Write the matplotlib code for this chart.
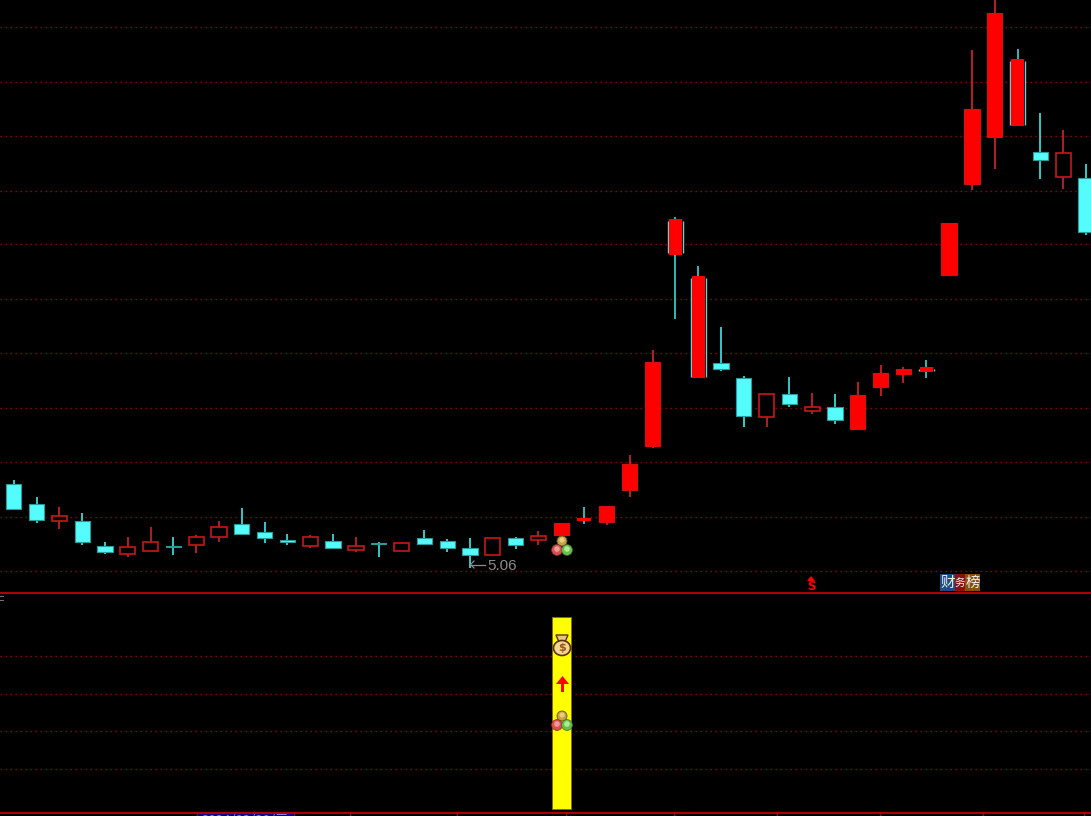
import matplotlib
matplotlib.use("Agg")
import matplotlib.pyplot as plt
from matplotlib.patches import Rectangle, Ellipse, Polygon

W, H = 1091, 816
RED, CYAN = "#ff0000", "#54fcfc"
DARK = "#a80000"

# Prices
high  = [5.91,5.74,5.64,5.58,5.29,5.34,5.44,5.34,5.36,5.50,5.63,5.49,5.37,5.36,5.37,5.34,5.29,5.29,5.41,5.32,5.33,5.33,5.34,5.40,5.48,5.64,5.65,6.16,7.21,8.54,8.05,7.44,6.95,6.77,6.94,6.78,6.77,6.89,7.06,7.04,7.11,8.48,10.21,10.75,10.22,9.58,9.41,9.07]
open_ = [5.87,5.67,5.50,5.50,5.25,5.17,5.20,5.25,5.26,5.34,5.47,5.39,5.31,5.25,5.30,5.21,5.28,5.20,5.33,5.30,5.23,5.16,5.33,5.31,5.36,5.50,5.49,5.81,6.25,8.16,6.93,7.08,6.93,6.54,6.77,6.60,6.64,6.42,6.84,6.97,6.99,7.96,8.87,9.34,9.45,9.19,8.94,8.93]
close = [5.62,5.51,5.55,5.29,5.19,5.24,5.29,5.24,5.34,5.44,5.37,5.33,5.29,5.34,5.23,5.25,5.27,5.28,5.27,5.23,5.16,5.33,5.26,5.35,5.48,5.53,5.65,6.07,7.09,8.52,7.95,7.02,6.55,6.77,6.67,6.64,6.51,6.76,6.98,7.02,7.04,8.48,9.62,10.58,10.12,9.11,9.18,8.39]
low   = [5.62,5.48,5.42,5.26,5.17,5.14,5.20,5.16,5.18,5.29,5.36,5.28,5.26,5.23,5.23,5.19,5.14,5.20,5.27,5.19,5.03,5.16,5.22,5.26,5.36,5.47,5.46,5.74,6.23,7.52,6.93,7.00,6.44,6.44,6.64,6.57,6.47,6.42,6.75,6.88,6.93,7.95,8.81,9.02,9.45,8.92,8.82,8.36]
hollow = [2,5,6,8,9,13,15,17,21,23,33,35,46]
cyan_edge = [25,29,30,40,44]
low_price_label = "5.06"
signal_index = 24
signal_bottom, signal_top = -0.062, 5.035
grid_prices = [10.44,9.89,9.35,8.80,8.27,7.72,7.18,6.63,6.09,5.54,5.00]
lower_grid = [1,2,3,4]
x_ticks = [14.73,19.45,24.23,28.93,33.44,37.97,42.48,46.9]
date_box_label = "2024/03/20/三"

fig = plt.figure(figsize=(W/100, H/100), dpi=100, facecolor="black")
ax = fig.add_axes([0, 1-592/H, 1, 592/H], facecolor="black")
ax2 = fig.add_axes([0, 1-812/H, 1, 220/H], facecolor="black")
for a in (ax, ax2):
    a.set_xlim(-0.60, 47.22)
    a.axis("off")
ax.set_ylim(10.71-5.92, 10.71)
ax2.set_ylim(-0.1415, 5.699)

for g in grid_prices:
    ax.axhline(g, color=DARK, lw=1, dashes=(1, 2.6), zorder=1)
for g in lower_grid:
    ax2.axhline(g, color=DARK, lw=1, dashes=(1, 2.6), zorder=1)

hw = 7.6/22.81
for i, (h, o, c, l) in enumerate(zip(high, open_, close, low)):
    up = c >= o
    top, bot = max(o, c), min(o, c)
    body_h = max(top-bot, 0.01)
    if not up:
        ax.plot([i, i], [l, h], color="#38d8d8", lw=1.3, zorder=2, solid_capstyle="butt")
        ax.add_patch(Rectangle((i-hw, bot), 2*hw, body_h, fc=CYAN, ec="#2a9a9a", lw=0.8, zorder=3))
    elif i in hollow:
        ax.plot([i, i], [l, h], color="#b02020", lw=1.4, zorder=2, solid_capstyle="butt")
        ax.add_patch(Rectangle((i-hw, bot), 2*hw, body_h, fc="black", ec="#c81818", lw=1.2, zorder=3))
    elif i in cyan_edge:
        ax.plot([i, i], [l, h], color="#38d8d8", lw=1.2, zorder=2, solid_capstyle="butt")
        for side in (-1, 1):
            ax.plot([i+side*hw]*2, [bot+0.015, top-0.015], color="#70d0d0", lw=1.0, zorder=3, solid_capstyle="butt")
        ax.add_patch(Rectangle((i-hw*0.87, bot), 1.74*hw, body_h, fc=RED, ec="none", zorder=4))
    else:
        ax.plot([i, i], [l, h], color="#b02020", lw=1.5, zorder=2, solid_capstyle="butt")
        ax.add_patch(Rectangle((i-hw, bot), 2*hw, body_h, fc=RED, ec="#d81010", lw=0.8, zorder=3))

# frame lines
fig.add_artist(plt.Line2D([0, 1], [1-592.5/H]*2, color="#b00000", lw=1.4))
fig.add_artist(plt.Line2D([0, 1], [1-812.5/H]*2, color="#b00000", lw=1.4))

# yellow signal bar
ax2.bar(signal_index, signal_top-signal_bottom, bottom=signal_bottom, width=19/22.81,
        color="#ffff00", edgecolor="#807000", lw=0.7, zorder=2)

# ticks below the lower panel
for t in x_ticks:
    ax2.plot([t, t], [-0.1415, -0.25], color="#b00000", lw=1, clip_on=False)


def px(x, y):
    return (x/W, 1-y/H)


def add_ell(x, y, rx, ry=None, **kw):
    ry = rx if ry is None else ry
    fig.add_artist(Ellipse(px(x, y), 2*rx/W, 2*ry/H, transform=fig.transFigure, **kw))


def add_rect(x0, y0, x1, y1, **kw):
    fig.add_artist(Rectangle(px(x0, y1), (x1-x0)/W, (y1-y0)/H, transform=fig.transFigure, **kw))


def add_poly(pts, **kw):
    fig.add_artist(Polygon([px(*p) for p in pts], closed=True, transform=fig.transFigure, **kw))


def balls(cx, cy):
    add_ell(cx, cy-9, 5, fc="#c8a048", ec="#6a5020", lw=0.6, zorder=6)
    add_ell(cx, cy-10, 2.6, fc="#e8cc80", ec="none", zorder=6)
    add_ell(cx-5, cy, 5.4, fc="#d85050", ec="#803030", lw=0.5, zorder=6)
    add_ell(cx-5, cy-1, 2.8, fc="#f09898", ec="none", zorder=6)
    add_ell(cx+5, cy, 5.4, fc="#68c048", ec="#406830", lw=0.5, zorder=6)
    add_ell(cx+5, cy-1, 2.8, fc="#b0e898", ec="none", zorder=6)


# money bag
add_poly([(556, 635), (568, 635), (565, 642), (559, 642)], fc="#e8c880", ec="#603010", lw=1, zorder=6)
add_ell(562, 648, 8.5, 7.5, fc="#f0d890", ec="#603010", lw=1.2, zorder=6)
fig.text(562/W, 1-648/H, "$", color="#a05020", fontsize=8, fontweight="bold", ha="center", va="center", zorder=7)

# red arrow
add_poly([(562.5, 676), (569, 684), (556, 684)], fc=RED, ec="none", zorder=6)
add_rect(561, 683, 564, 692, fc=RED, ec="none", zorder=6)

balls(562, 725)
balls(562, 550)

# low price label with its long arrow
fig.text(487/W, 1-566/H, low_price_label, color="#8c8c8c", fontsize=11,
         family="Liberation Sans", ha="left", va="center", zorder=7)
fig.add_artist(plt.Line2D([471/W, 485/W], [1-564.5/H]*2, color="#8c8c8c", lw=0.9, zorder=7))
fig.add_artist(plt.Line2D([474/W, 470.5/W, 474/W], [1-561/H, 1-564.5/H, 1-568/H], color="#8c8c8c", lw=0.9, zorder=7))

# red S marker
add_poly([(811, 576), (815, 581), (807, 581)], fc=RED, ec="none", zorder=6)
fig.text(811/W, 1-586/H, "S", color=RED, fontsize=8.5, fontweight="bold", ha="center", va="center", zorder=7)

# finance badge
for x0, x1, col, ch, fs in [(940, 955, "#1c4c80", "财", 10.5), (955, 965, "#8c1010", "务", 7.5),
                            (965, 980, "#8a5010", "榜", 10.5)]:
    add_rect(x0, 574, x1, 591, fc=col, ec="none", zorder=5)
    fig.text((x0+x1)/2/W, 1-582.5/H, ch, color="#f0f0f0", fontsize=fs,
             family=["Noto Sans CJK SC", "DejaVu Sans"], ha="center", va="center", zorder=7)

# clipped F at the top-left of the lower panel
fig.text(-3/W, 1-601/H, "F", color="#a0a0a0", fontsize=7.5, family="Liberation Sans",
         ha="left", va="center", zorder=7)

# date box on the bottom edge
add_rect(197, 812.5, 294, 817, fc="#0000a0", ec="#b00000", lw=0.8, zorder=5)
fig.text(245.5/W, 1-814.5/H, date_box_label, color="#8080e8", fontsize=9.5,
         family=["Noto Sans CJK SC", "DejaVu Sans"], ha="center", va="top", zorder=7)

fig.savefig("out.png", dpi=100, facecolor="black")
